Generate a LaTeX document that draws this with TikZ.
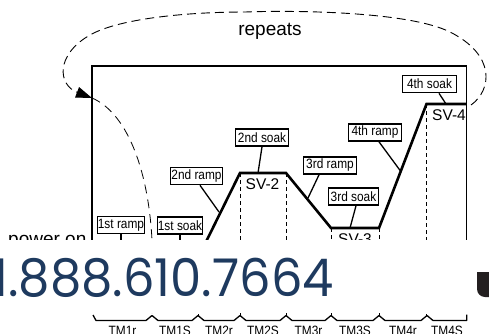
\documentclass[tikz,border=0pt]{standalone}
\usepackage{fontspec}
\setmainfont{Liberation Sans}
\newfontfamily\narrowfont[FakeStretch=0.88]{Liberation Sans}
\newfontfamily\phonefont[FakeStretch=0.955]{Poppins}
\usetikzlibrary{arrows.meta}
\definecolor{navy}{HTML}{1E3A5F}
\definecolor{inkdark}{HTML}{231F20}
\begin{document}
\begin{tikzpicture}[x=1pt,y=-1pt,
  lbl/.style={draw, line width=1.6pt, fill=white, minimum height=17pt, inner sep=0.5pt,
    font=\narrowfont\fontsize{13.5}{14}\selectfont},
  leader/.style={line width=1.3pt},
  profile/.style={line width=2.6pt, line join=miter},
  frame/.style={line width=1.4pt},
  vdash/.style={line width=0.8pt, dash pattern=on 4pt off 3pt},
  loopdash/.style={line width=0.9pt, dash pattern=on 9pt off 5pt},
  svtext/.style={anchor=base, inner sep=0, font=\fontsize{15.5}{16}\selectfont},
  bigtext/.style={inner sep=0, font=\fontsize{19}{20}\selectfont},
  tmtext/.style={anchor=base, inner sep=0, font=\narrowfont\fontsize{13.5}{14}\selectfont},
  axis/.style={line width=1.3pt, line join=round}]
\useasboundingbox (0,0) rectangle (489,333);
\clip (0,0) rectangle (489,333);

% frame
\draw[frame] (92,250) -- (92,66) -- (466.7,66) -- (466.7,250);

% profile coordinates
\coordinate (p0) at (93,310);
\coordinate (p1) at (152,262);
\coordinate (p2) at (198,258);
\coordinate (p3) at (240,173);
\coordinate (p4) at (286,173);
\coordinate (p5) at (331,228);
\coordinate (p6) at (379,228);
\coordinate (p7) at (426.5,104);
\coordinate (p8) at (466.7,104);

% dashed verticals
\foreach \x/\y in {198/258, 240/173, 286/173, 331/228, 379/228, 426.7/104}
  \draw[vdash] (\x,\y) -- (\x,316);

% profile
\draw[profile] (p0) -- (p1) -- (p2) -- (p3) -- (p4) -- (p5) -- (p6) -- (p7) -- (p8);

% repeats loop
\coordinate (loopstart) at (471,105);
\coordinate (arrowtip) at (92,98);
\draw[loopdash, -{Triangle[length=16pt,width=11pt]}]
  (loopstart) .. controls (492,90) and (496,55) .. (450,32)
  .. controls (410,12) and (300,10) .. (245,12)
  .. controls (190,12) and (120,18) .. (90,35)
  .. controls (55,55) and (58,85) .. (arrowtip);
\node[bigtext, anchor=base] (repeats) at (270,35) {repeats};

% power-on dashed
\coordinate (pwend) at (152,316);
\draw[vdash, dash pattern=on 9pt off 6pt] (arrowtip) .. controls (125,112) and (148,165) .. (152,240) -- (pwend);

% label boxes
\node[lbl, minimum width=47pt] (r1) at (121,225) {1st ramp};
\node[lbl, minimum width=45pt] (s1) at (180,225.5) {1st soak};
\node[lbl, minimum width=52pt] (r2) at (196.5,176) {2nd ramp};
\node[lbl, minimum width=53pt] (s2) at (262,137.5) {2nd soak};
\node[lbl, minimum width=53pt] (r3) at (330,165.5) {3rd ramp};
\node[lbl, minimum width=50pt] (s3) at (353.5,196.5) {3rd soak};
\node[lbl, minimum width=53pt] (r4) at (375,132.5) {4th ramp};
\node[lbl, minimum width=54pt] (s4) at (429.5,84) {4th soak};

% leader ends
\coordinate (c1) at (121,252);
\coordinate (c2) at (180,252);
\coordinate (c3) at (219,212);
\coordinate (c4) at (258,173);
\coordinate (c5) at (308,198);
\coordinate (c6) at (350,228);
\coordinate (c7) at (400.5,171);
\coordinate (c8) at (446,104);
\draw[leader] (r1.south) -- (c1);
\draw[leader] (s1.south) -- (c2);
\draw[leader] ([xshift=3.5pt]r2.south) -- (c3);
\draw[leader] (s2.south) -- (c4);
\draw[leader] ([xshift=-11pt]r3.south) -- (c5);
\draw[leader] ([xshift=2.5pt]s3.south) -- (c6);
\draw[leader] ([xshift=4pt]r4.south) -- (c7);
\draw[leader] ([xshift=9.5pt]s4.south) -- (c8);

% SV texts
\node[svtext] (sv2) at (262.5,189) {SV-2};
\node[svtext] (sv3) at (355,244) {SV-3};
\node[svtext] (sv4) at (449,120) {SV-4};

% power on
\node[bigtext, anchor=base west] (pwr) at (8,245) {power on};

% white overlay band with phone number
\fill[white] (0,240) rectangle (489,312.5);
\node[anchor=base east, inner sep=0, text=navy, font=\phonefont\fontsize{52}{52}\selectfont] (phone) at (334,296.5) {1.888.610.7664};
\fill[inkdark] (489,272) -- (477,272) -- (477,289) .. controls (477,293.4) and (480.6,297) .. (485,297) -- (489,297) -- cycle;

% time axis
\draw[axis] (93,315) -- (96,320.5) -- (146,320.5) -- (152,315.5) -- (158,320.5)
  -- (192,320.5) -- (198,315.5) -- (204,320.5)
  -- (234,320.5) -- (240,315.5) -- (246,320.5)
  -- (280,320.5) -- (286,315.5) -- (292,320.5)
  -- (325,320.5) -- (331,315.5) -- (337,320.5)
  -- (373,320.5) -- (379,315.5) -- (385,320.5)
  -- (421,320.5) -- (427,315.5) -- (433,320.5)
  -- (466.7,320.5) -- (466.7,314.5);
\node[tmtext] (tm1r) at (122.5,335.5) {TM1r};
\node[tmtext] (tm1s) at (175,335.5) {TM1S};
\node[tmtext] (tm2r) at (219,335.5) {TM2r};
\node[tmtext] (tm2s) at (263,335.5) {TM2S};
\node[tmtext] (tm3r) at (308.5,335.5) {TM3r};
\node[tmtext] (tm3s) at (355,335.5) {TM3S};
\node[tmtext] (tm4r) at (403,335.5) {TM4r};
\node[tmtext] (tm4s) at (447,335.5) {TM4S};
\end{tikzpicture}
\end{document}
